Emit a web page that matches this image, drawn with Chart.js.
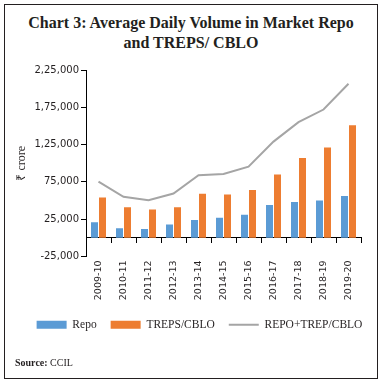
<!DOCTYPE html>
<html>
<head>
<meta charset="utf-8">
<script src="https://cdn.jsdelivr.net/npm/chart.js@4/dist/chart.umd.min.js"></script>
<style>
  html, body { margin: 0; padding: 0; background: #fff; }
  body { width: 382px; height: 383px; position: relative; overflow: hidden; }
  #frame { position: absolute; left: 4px; top: 4px; width: 374px; height: 375px; box-sizing: border-box; border: 1.5px solid #231f20; }
  #title { position: absolute; left: 0; top: 13px; width: 382px; text-align: center; font: bold 16px/20px "Liberation Serif", serif; color: #231f20; }
  #wrap { position: absolute; left: 0; top: 0; width: 382px; height: 383px; }
  #source { position: absolute; left: 15px; top: 357px; font: 10px "Liberation Serif", serif; color: #231f20; }
</style>
</head>
<body>
<div id="frame"></div>
<div id="title">Chart 3: Average Daily Volume in Market Repo<br>and TREPS/ CBLO</div>
<div id="wrap"><canvas id="c"></canvas></div>
<div id="source"><b>Source:</b> CCIL</div>
<script>
const categories = ['2009-10','2010-11','2011-12','2012-13','2013-14','2014-15','2015-16','2016-17','2017-18','2018-19','2019-20'];
const repo  = [21000, 13000, 12000, 18000, 24000, 27000, 31000, 44000, 48000, 50000, 56000];
const treps = [54000, 41000, 38000, 41000, 59000, 58000, 64000, 85000, 107000, 121000, 151000];
const total = [75500, 55000, 50500, 59500, 84000, 85500, 95500, 129000, 155000, 172000, 206500];
const yTickValues = [-25000, 25000, 75000, 125000, 175000, 225000];
const yTickLabels = ['-25,000', '25,000', '75,000', '1,25,000', '1,75,000', '2,25,000'];
const seriesNames = ['Repo', 'TREPS/CBLO', 'REPO+TREP/CBLO'];

const axisFont = { family: 'DejaVu Sans', size: 10 };
const ink = '#231f20';

new Chart(document.getElementById('c'), {
  type: 'bar',
  data: {
    labels: categories,
    datasets: [
      { label: seriesNames[0], data: repo, backgroundColor: '#5B9BD5', borderWidth: 0,
        categoryPercentage: 0.64, barPercentage: 0.875, pointStyle: 'rect' },
      { label: seriesNames[1], data: treps, backgroundColor: '#ED7D31', borderWidth: 0,
        categoryPercentage: 0.64, barPercentage: 0.875, pointStyle: 'rect' },
      { type: 'line', label: seriesNames[2], data: total, borderColor: '#A5A5A5', backgroundColor: '#A5A5A5',
        borderWidth: 2, pointRadius: 0, tension: 0, fill: false, pointStyle: 'line' }
    ]
  },
  options: {
    responsive: true,
    maintainAspectRatio: false,
    animation: false,
    layout: { padding: { left: 17, right: 0, top: 70, bottom: 42.5 } },
    plugins: {
      title: { display: false },
      tooltip: { enabled: false },
      legend: {
        position: 'bottom',
        labels: {
          usePointStyle: true,
          pointStyleWidth: 30,
          boxHeight: 8,
          padding: 14,
          color: ink,
          font: { family: 'Liberation Serif', size: 11.5 }
        }
      }
    },
    scales: {
      x: {
        type: 'category',
        position: 'bottom',
        offset: true,
        grid: { display: false, drawTicks: false },
        border: { display: false },
        ticks: { minRotation: 90, maxRotation: 90, autoSkip: false, padding: 4, color: ink,
                 font: { family: 'DejaVu Sans', size: 9.5 } },
        afterFit: s => { s.height = 48.5; }
      },
      x2: {
        type: 'category',
        axis: 'x',
        position: { y: 0 },
        offset: true,
        grid: { display: true, offset: true, drawOnChartArea: false, drawTicks: true, tickLength: 5, color: '#000', lineWidth: 1 },
        border: { display: true, color: '#000', width: 1 },
        ticks: { display: false }
      },
      y: {
        type: 'linear',
        position: 'left',
        min: -25000,
        max: 225000,
        grid: { drawOnChartArea: false, drawTicks: true, tickLength: 5, color: '#000', lineWidth: 1 },
        border: { display: true, color: '#000', width: 1 },
        ticks: {
          stepSize: 50000, padding: 2, color: ink, font: axisFont,
          callback: v => { const i = yTickValues.indexOf(v); return i >= 0 ? yTickLabels[i] : ''; }
        },
        title: { display: true, text: '₹ crore', color: ink, padding: { top: -2, bottom: 0 },
                 font: { family: 'Liberation Serif', size: 12 } },
        afterFit: s => { s.width = 69; }
      },
      yr: {
        type: 'linear',
        position: 'right',
        display: true,
        grid: { display: false, drawTicks: false },
        border: { display: false },
        ticks: { display: false },
        afterFit: s => { s.width = 21; }
      }
    }
  }
});
</script>
</body>
</html>
